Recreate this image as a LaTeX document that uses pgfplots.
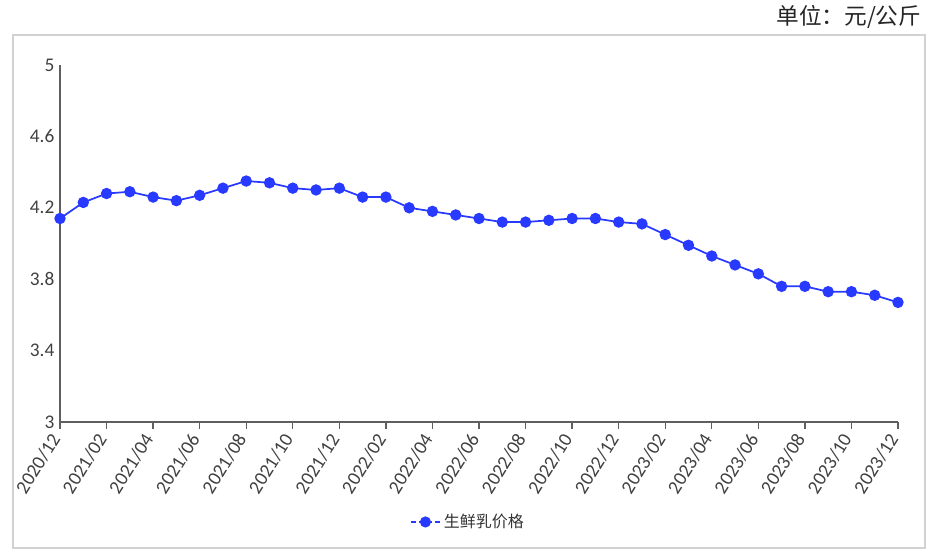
\documentclass[border=0pt]{standalone}
\usepackage{pgfplots}
\pgfplotsset{compat=1.18}
\usepackage{fontspec}
\setmainfont{Carlito}
\newfontfamily\cjk{Noto Sans CJK SC}
\definecolor{linec}{RGB}{40,58,255}
\definecolor{axc}{RGB}{95,95,95}
\definecolor{framec}{RGB}{210,210,210}
\begin{document}
\begin{tikzpicture}[x=0.75pt,y=0.75pt]
\path[use as bounding box] (0,0) rectangle (938,554);
\draw[framec, line width=1pt] (13,6) rectangle (925,519);
\node[anchor=east, font=\cjk\fontsize{17}{19}\selectfont, text=black!85] at (926,537) {单位：元/公斤};
\begin{axis}[
  at={(60pt*0.75,132pt*0.75)}, anchor=south west,
  scale only axis, width=628.5pt, height=267.75pt,
  xmin=0, xmax=36, ymin=3, ymax=5,
  axis x line*=bottom, axis y line*=left,
  axis line style={axc, line width=1pt},
  ytick={3,3.4,3.8,4.2,4.6,5},
  yticklabels={3,3.4,3.8,4.2,4.6,5},
  ytick style={draw=none},
  xtick={0,2,...,36},
  xticklabels={2020/12,2021/02,2021/04,2021/06,2021/08,2021/10,2021/12,2022/02,2022/04,2022/06,2022/08,2022/10,2022/12,2023/02,2023/04,2023/06,2023/08,2023/10,2023/12},
  x tick style={axc, line width=1pt},
  xtick align=outside, major tick length=5pt,
  tick label style={font=\fontsize{14.5}{16}\selectfont, text=black!75},
  xticklabel style={rotate=58, anchor=east, inner sep=6pt},
  yticklabel style={inner sep=4pt},
  /pgf/number format/assume math mode=true,
  clip=false,
  legend style={at={(0.487,-0.28)}, anchor=center, draw=none, fill=none,
    font=\cjk\fontsize{12}{14}\selectfont, text=black!80},
  legend image code/.code={
    \draw[linec, line width=1.5pt, dash pattern=on 4pt off 2pt] (0pt,0pt) -- (22pt,0pt);
    \fill[linec] (11pt,0pt) circle (3.5pt);
  },
]
\addplot[color=linec, line width=1.3pt, mark=*, mark size=3.6pt, mark options={fill=linec, draw=linec}]
coordinates {
(0,4.14)(1,4.23)(2,4.28)(3,4.29)(4,4.26)(5,4.24)(6,4.27)(7,4.31)(8,4.35)(9,4.34)
(10,4.31)(11,4.30)(12,4.31)(13,4.26)(14,4.26)(15,4.20)(16,4.18)(17,4.16)(18,4.14)
(19,4.12)(20,4.12)(21,4.13)(22,4.14)(23,4.14)(24,4.12)(25,4.11)(26,4.05)(27,3.99)
(28,3.93)(29,3.88)(30,3.83)(31,3.76)(32,3.76)(33,3.73)(34,3.73)(35,3.71)(36,3.67)
};
\addlegendentry{生鲜乳价格}
\end{axis}
\end{tikzpicture}
\end{document}
